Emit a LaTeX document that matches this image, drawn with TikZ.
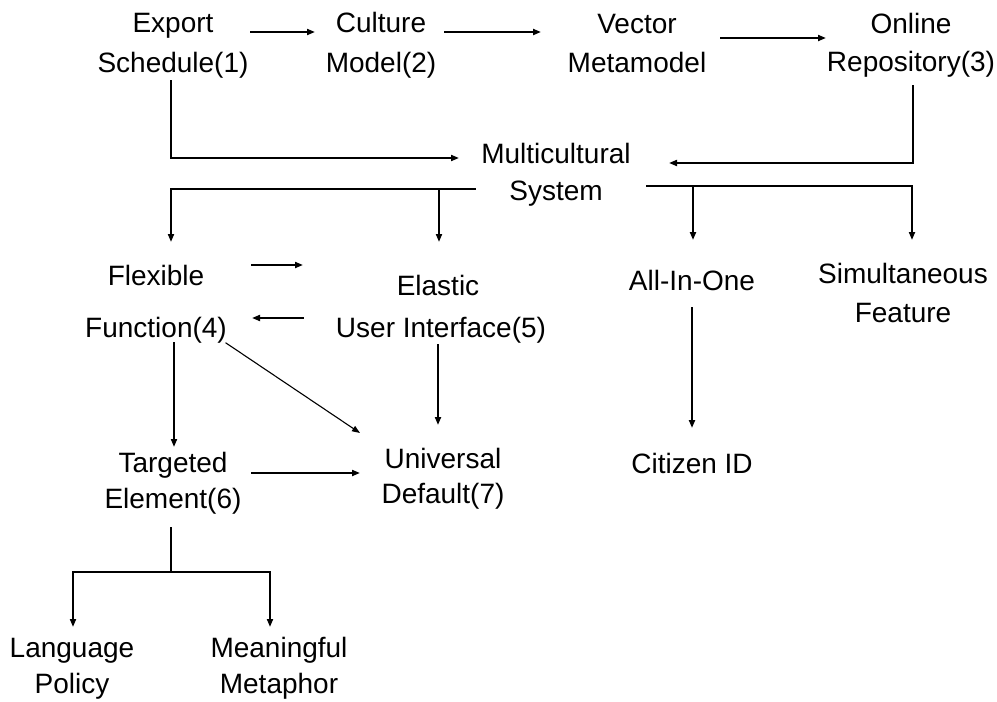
\documentclass[tikz,border=0pt]{standalone}
\usepackage{fontspec}
\setmainfont{Liberation Sans}
\usetikzlibrary{arrows.meta}
\tikzset{
  lbl/.style={font=\fontsize{28}{#1}\selectfont, align=center, inner sep=0pt, anchor=base},
  conn/.style={line width=1.9pt, line cap=rect},
  arr/.style={conn, -{Triangle[length=8pt,width=6pt]}},
}
\begin{document}
\begin{tikzpicture}[x=1pt,y=-1pt]
\useasboundingbox (0,0) rectangle (997,702);
% nodes (anchor base = baseline of the last line)
\node[lbl=40] (exp) at (173,72) {Export\\Schedule(1)};
\node[lbl=40] (cul) at (381,72) {Culture\\Model(2)};
\node[lbl=39] (vec) at (637,72) {Vector\\Metamodel};
\node[lbl=38] (onl) at (911,71) {Online\rule{0pt}{0pt}\\Repository(3)};
\node[lbl=37] (mul) at (556,200) {Multicultural\\System};
\node[lbl=52] (flx) at (156,337) {Flexible\\Function(4)};
\node[lbl=42] (ela) at (441,337) {Elastic\rule{6pt}{0pt}\\User Interface(5)};
\node[lbl=36] (tgt) at (173,508) {Targeted\\Element(6)};
\node[lbl=35] (uni) at (443,503) {Universal\\Default(7)};
\node[lbl=36] (lng) at (72,693) {Language\\Policy};
\node[lbl=36] (mea) at (279,693) {Meaningful\\Metaphor};
\node[lbl=28] (all) at (692,290) {All-In-One};
\node[lbl=28] (cit) at (692,473) {Citizen ID};
\node[lbl=39] (sim) at (903,322) {Simultaneous\\Feature};
% connector end points
\coordinate (e1) at (251,32);  \coordinate (c1) at (315,32);
\coordinate (c2) at (445,32);  \coordinate (v1) at (541,32);
\coordinate (v2) at (721,38);  \coordinate (o1) at (826,38);
\coordinate (e2) at (171,81);  \coordinate (e3) at (171,158); \coordinate (m1) at (459,158);
\coordinate (o2) at (913,86);  \coordinate (o3) at (913,163); \coordinate (m2) at (669,163);
\coordinate (m3) at (475,189); \coordinate (b1) at (171,189); \coordinate (b2) at (439,189);
\coordinate (f0) at (171,242); \coordinate (l0) at (439,242);
\coordinate (m4) at (647,186); \coordinate (b3) at (693,186); \coordinate (b4) at (912,186);
\coordinate (a0) at (693,240); \coordinate (s0) at (912,240);
\coordinate (f1) at (252,265); \coordinate (l1) at (303,265);
\coordinate (l2) at (303,318); \coordinate (f2) at (252,318);
\coordinate (f3) at (174,343); \coordinate (t1) at (174,447);
\coordinate (f4) at (226,343); \coordinate (u1) at (360,433);
\coordinate (l3) at (438,345); \coordinate (u2) at (438,425);
\coordinate (t2) at (252,473); \coordinate (u3) at (360,473);
\coordinate (t3) at (171,528); \coordinate (t4) at (171,572);
\coordinate (t5) at (73,572);  \coordinate (t6) at (270,572);
\coordinate (g1) at (73,627);  \coordinate (g2) at (270,627);
\coordinate (a1) at (692,308); \coordinate (z1) at (692,428);
% connectors
\draw[arr] (e1) -- (c1);
\draw[arr, line width=2.7pt] (c2) -- (v1);
\draw[arr] (v2) -- (o1);
\draw[arr] (e2) -- (e3) -- (m1);
\draw[arr] (o2) -- (o3) -- (m2);
\draw[conn] (m3) -- (b1);
\draw[arr] (b1) -- (f0);
\draw[arr] (b2) -- (l0);
\draw[conn, line width=2.8pt] (m4) -- (b4);
\draw[arr, line width=2.5pt] (b3) -- (a0);
\draw[arr] (b4) -- (s0);
\draw[arr] (f1) -- (l1);
\draw[arr] (l2) -- (f2);
\draw[arr] (f3) -- (t1);
\draw[arr, line width=1.1pt] (f4) -- (u1);
\draw[arr] (l3) -- (u2);
\draw[arr] (t2) -- (u3);
\draw[conn] (t3) -- (t4);
\draw[conn] (t5) -- (t6);
\draw[arr] (t5) -- (g1);
\draw[arr] (t6) -- (g2);
\draw[arr, line width=2.5pt] (a1) -- (z1);
\end{tikzpicture}
\end{document}
